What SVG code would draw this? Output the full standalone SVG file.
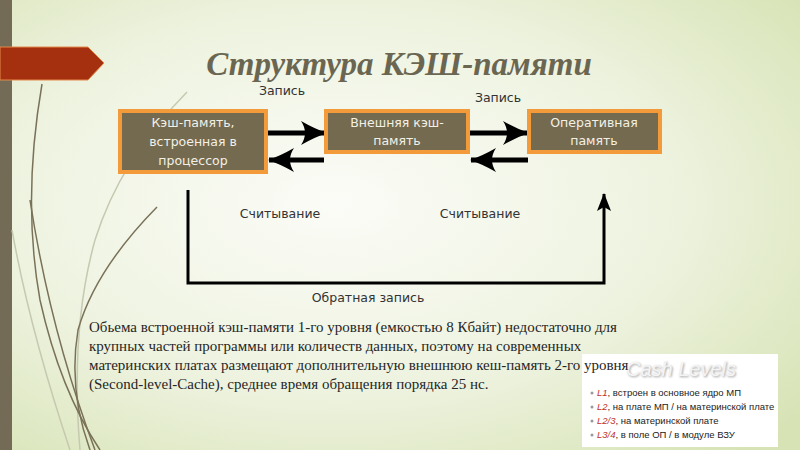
<svg xmlns="http://www.w3.org/2000/svg" width="800" height="450" viewBox="0 0 800 450">
<defs>
<radialGradient id="bg" cx="0.42" cy="0.45" r="0.75">
<stop offset="0" stop-color="#fbfcf7"/>
<stop offset="0.55" stop-color="#eef3e0"/>
<stop offset="1" stop-color="#d7e3b5"/>
</radialGradient>
<marker id="ah" markerUnits="userSpaceOnUse" markerWidth="26" markerHeight="24" viewBox="0 0 26 24" refX="25" refY="12" orient="auto">
<path d="M0,0 Q14,8 26,12 Q14,16 0,24 Q8,12 0,0 Z" fill="#000"/>
</marker>
<marker id="ahs" markerUnits="userSpaceOnUse" markerWidth="18" markerHeight="14" viewBox="0 0 18 14" refX="17" refY="7" orient="auto">
<path d="M0,0 L18,7 L0,14 L4,7 Z" fill="#000"/>
</marker>
<filter id="sh" x="-10%" y="-30%" width="120%" height="160%">
<feGaussianBlur stdDeviation="1"/>
</filter>
</defs>
<style>
.box{fill:#736a50;stroke:#f39a3a;stroke-width:4}
.bt{font-family:"DejaVu Sans","Liberation Sans",sans-serif;font-size:12.5px;fill:#f3f1e6;text-anchor:middle}
.lbl{font-family:"DejaVu Sans","Liberation Sans",sans-serif;font-size:12.5px;fill:#333;text-anchor:middle}
.par{font-family:"Liberation Serif","Times New Roman",serif;font-size:15px;fill:#262626}
.thick{stroke:#000;stroke-width:5;fill:none}
.fb{stroke:#000;stroke-width:3;fill:none}
.deco{fill:none;stroke:#7a7258;stroke-width:1.5}
.decol{fill:none;stroke:#c5c9b0;stroke-width:1.5}
.li{font-family:"Liberation Sans",Arial,sans-serif;font-size:9.5px;fill:#222}
.lk{font-style:italic;fill:#c0302a}
</style>
<rect x="0" y="0" width="800" height="450" fill="url(#bg)"/>
<rect x="0" y="0" width="12" height="450" fill="#736b55"/>
<g id="decor">
<path class="decol" d="M187,92 Q120,160 95,240 Q70,330 80,450"/>
<path class="decol" d="M12,230 Q30,330 70,450"/>
<path class="deco" d="M42,84 Q22,200 40,300 Q60,390 100,450"/>
<path class="deco" d="M30,200 Q50,330 95,450"/>
<path class="deco" d="M157,207 Q95,270 78,330 Q68,390 90,450"/>
</g>
<g id="banner">
<path d="M0,47 L88,47 L104,63 L88,80 L0,80 Z" fill="#a5300f" stroke="#e2894f" stroke-width="1"/>
</g>
<text id="title" x="399" y="75" text-anchor="middle" font-family="'Liberation Serif','Times New Roman',serif" font-size="33" font-weight="bold" font-style="italic" fill="#6b6651">Структура КЭШ-памяти</text>
<g id="connectors">
<line class="thick" x1="268" y1="133" x2="326" y2="133" marker-end="url(#ah)"/>
<line class="thick" x1="324" y1="160" x2="269" y2="160" marker-end="url(#ah)"/>
<line class="thick" x1="470" y1="133" x2="528" y2="133" marker-end="url(#ah)"/>
<line class="thick" x1="528" y1="160" x2="471" y2="160" marker-end="url(#ah)"/>
<path class="fb" d="M188,190 L188,283 L604,283 L604,194" marker-end="url(#ahs)"/>
<text class="lbl" x="282" y="95">Запись</text>
<text class="lbl" x="498" y="102">Запись</text>
<text class="lbl" x="280" y="218">Считывание</text>
<text class="lbl" x="480" y="218">Считывание</text>
<text class="lbl" x="368" y="302">Обратная запись</text>
</g>
<g id="node-cache1">
<rect class="box" x="120" y="111" width="146" height="61"/>
<text class="bt" x="193" y="127">Кэш-память,</text>
<text class="bt" x="193" y="146">встроенная в</text>
<text class="bt" x="193" y="165">процессор</text>
</g>
<g id="node-cache2">
<rect class="box" x="326" y="111" width="142" height="41"/>
<text class="bt" x="397" y="127">Внешняя кэш-</text>
<text class="bt" x="397" y="145">память</text>
</g>
<g id="node-ram">
<rect class="box" x="529" y="111" width="131" height="41"/>
<text class="bt" x="594" y="127">Оперативная</text>
<text class="bt" x="594" y="145">память</text>
</g>
<g id="cash-levels">
<rect x="582" y="354" width="196" height="93" fill="#ffffff"/>
<text x="682" y="377" text-anchor="middle" font-family="'Liberation Sans',Arial,sans-serif" font-size="20" font-style="italic" fill="#9a9a9a" filter="url(#sh)">Cash Levels</text>
<text x="681" y="376" text-anchor="middle" font-family="'Liberation Sans',Arial,sans-serif" font-size="20" font-style="italic" fill="#f4f4f4">Cash Levels</text>
<g fill="#999"><circle cx="592" cy="393" r="1.5"/><circle cx="592" cy="407" r="1.5"/><circle cx="592" cy="421" r="1.5"/><circle cx="592" cy="435" r="1.5"/></g>
<text class="li" x="597" y="396"><tspan class="lk">L1</tspan>, встроен в основное ядро МП</text>
<text class="li" x="597" y="410"><tspan class="lk">L2</tspan>, на плате МП / на материнской плате</text>
<text class="li" x="597" y="424"><tspan class="lk">L2/3</tspan>, на материнской плате</text>
<text class="li" x="597" y="438"><tspan class="lk">L3/4</tspan>, в поле ОП / в модуле ВЗУ</text>
</g>
<g id="paragraph">
<text class="par" x="89" y="332">Обьема встроенной кэш-памяти 1-го уровня (емкостью 8 Кбайт) недостаточно для</text>
<text class="par" x="89" y="351">крупных частей программы или количеств данных, поэтому на современных</text>
<text class="par" x="89" y="370">материнских платах размещают дополнительную внешнюю кеш-память 2-го уровня</text>
<text class="par" x="89" y="389">(Second-level-Cache), среднее время обращения порядка 25 нс.</text>
</g>
</svg>
